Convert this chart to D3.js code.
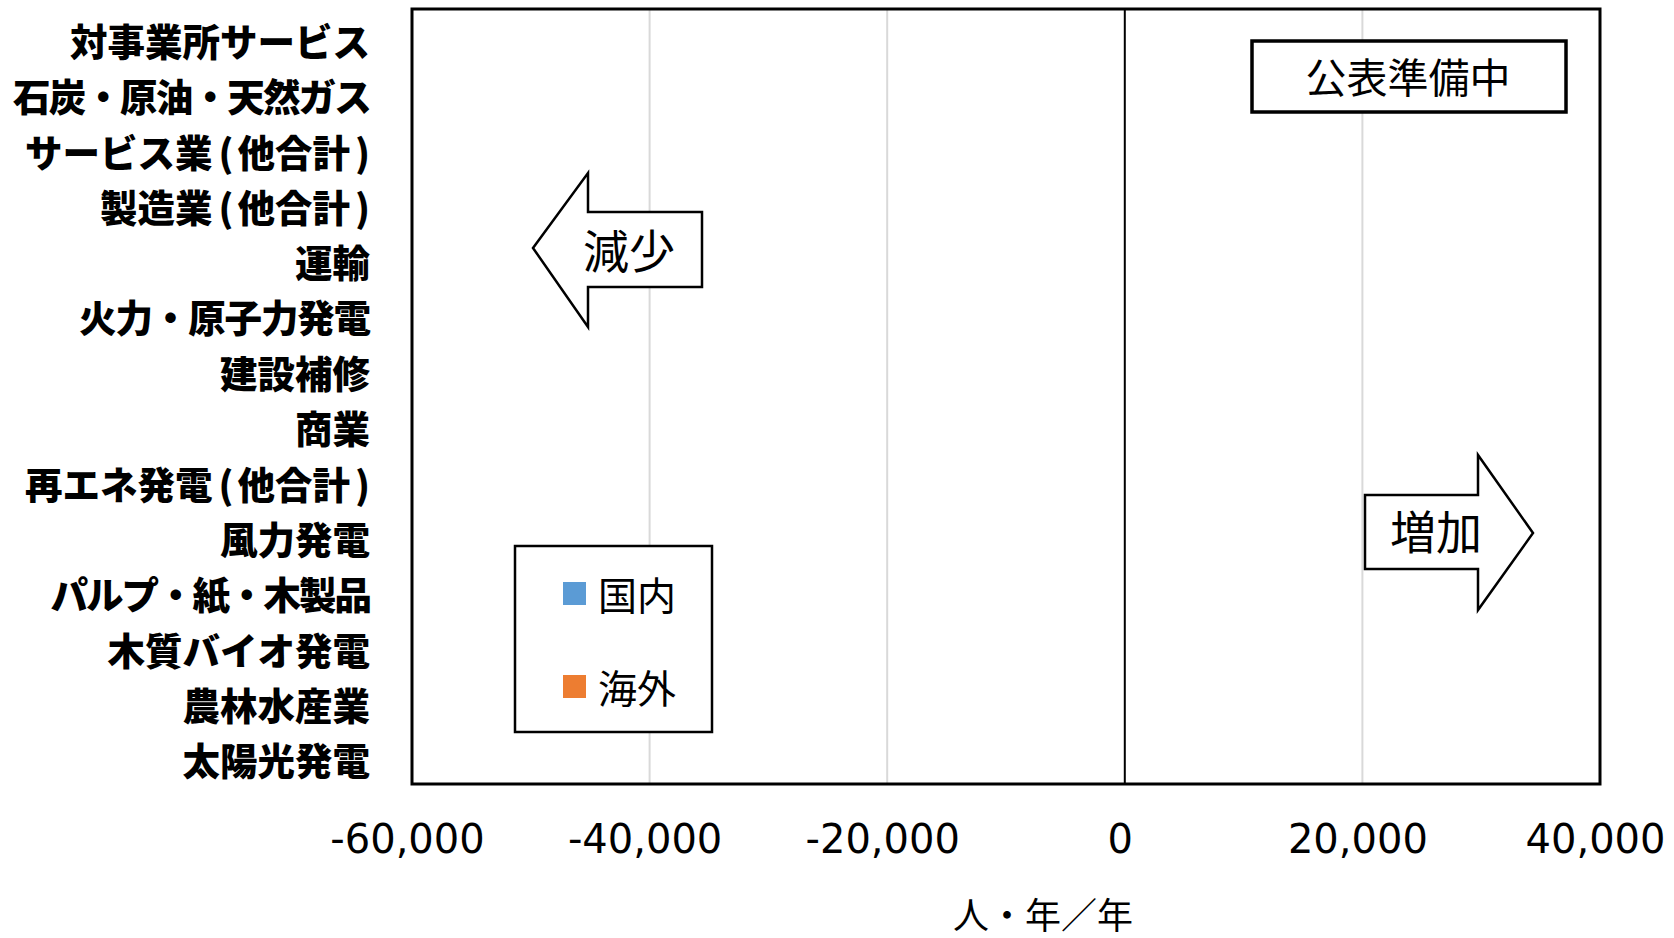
<!DOCTYPE html>
<html>
<head>
<meta charset="utf-8">
<script src="https://cdn.jsdelivr.net/npm/d3@7"></script>
<style>
  html, body { margin: 0; padding: 0; background: #fff; }
  svg { display: block; }
</style>
</head>
<body>
<svg id="chart" width="1674" height="938"></svg>
<script>
// ---- data ----
const categories = [
  "対事業所サービス", "石炭・原油・天然ガス", "サービス業(他合計)", "製造業(他合計)",
  "運輸", "火力・原子力発電", "建設補修", "商業", "再エネ発電(他合計)", "風力発電",
  "パルプ・紙・木製品", "木質バイオ発電", "農林水産業", "太陽光発電"
];
const seriesNames = ["国内", "海外"];
const seriesColors = ["#5B9BD5", "#ED7D31"];
// values not yet published (公表準備中) -> no visible bars
const domestic = [0, 0, 0, 0, 0, 0, 0, 0, 0, 0, 0, 0, 0, 0];
const overseas = [0, 0, 0, 0, 0, 0, 0, 0, 0, 0, 0, 0, 0, 0];
const xTicks = [-60000, -40000, -20000, 0, 20000, 40000];
const xDomain = [-60000, 40000];
const axisTitle = "人・年／年";
const noticeText = "公表準備中";
const decreaseText = "減少";
const increaseText = "増加";

// ---- layout ----
const svg = d3.select("#chart");
const plot = { left: 412, right: 1600, top: 9, bottom: 784 };

const x = d3.scaleLinear().domain(xDomain).range([plot.left, plot.right]);
const y = d3.scaleBand().domain(categories).range([plot.top, plot.bottom]).paddingInner(0.3).paddingOuter(0.15);
const yOuter = d3.scaleBand().domain(categories).range([plot.top, plot.bottom]);

// gridlines
svg.append("g").selectAll("line").data(xTicks.filter(d => d !== 0 && d !== xDomain[0] && d !== xDomain[1]))
  .join("line")
  .attr("x1", d => x(d)).attr("x2", d => x(d))
  .attr("y1", plot.top).attr("y2", plot.bottom)
  .attr("stroke", "#D9D9D9").attr("stroke-width", 2);

// bars (stacked: domestic then overseas)
const stackData = categories.map((c, i) => ({ cat: c, d: domestic[i], o: overseas[i] }));
svg.append("g").selectAll("rect").data(stackData).join("rect")
  .attr("x", d => x(Math.min(0, d.d))).attr("width", d => Math.abs(x(d.d) - x(0)))
  .attr("y", d => y(d.cat)).attr("height", y.bandwidth())
  .attr("fill", seriesColors[0]);
svg.append("g").selectAll("rect").data(stackData).join("rect")
  .attr("x", d => x(Math.min(d.d, d.d + d.o))).attr("width", d => Math.abs(x(d.d + d.o) - x(d.d)))
  .attr("y", d => y(d.cat)).attr("height", y.bandwidth())
  .attr("fill", seriesColors[1]);

// zero line
svg.append("line")
  .attr("x1", x(0)).attr("x2", x(0)).attr("y1", plot.top).attr("y2", plot.bottom)
  .attr("stroke", "#000").attr("stroke-width", 2);

// plot border
svg.append("rect")
  .attr("x", plot.left).attr("y", plot.top)
  .attr("width", plot.right - plot.left).attr("height", plot.bottom - plot.top)
  .attr("fill", "none").attr("stroke", "#000").attr("stroke-width", 3);

// category labels
const labels = svg.append("g").selectAll("text").data(categories).join("text")
  .attr("x", 370)
  .attr("y", d => yOuter(d) + yOuter.bandwidth() / 2 + 2.5)
  .attr("text-anchor", "end")
  .attr("dominant-baseline", "central")
  .attr("font-family", "'Noto Sans CJK JP', sans-serif")
  .attr("font-weight", 900)
  .attr("font-size", 37.5)
  .attr("fill", "#000")
  .attr("letter-spacing", d => {
    const dots = (d.match(/・/g) || []).length;
    return dots ? (-(dots * 9) / d.length).toFixed(2) : null;
  });
labels.each(function (d) {
  const t = d3.select(this);
  if (d.indexOf("(") < 0) { t.text(d); return; }
  // give the half-width parentheses a little breathing room
  const parts = d.split(/([()])/).filter(p => p.length);
  let afterOpen = false;
  parts.forEach(p => {
    const ts = t.append("tspan").text(p);
    if (p === "(") { ts.attr("dx", 6); afterOpen = true; }
    else if (p === ")") { ts.attr("dx", 5); }
    else if (afterOpen) { ts.attr("dx", 4); afterOpen = false; }
  });
});

// x axis
const locale = d3.formatLocale({ decimal: ".", thousands: ",", grouping: [3], currency: ["", ""], minus: "-" });
const xAxis = d3.axisBottom(x).tickValues(xTicks).tickSize(0).tickPadding(41).tickFormat(locale.format(","));
const gx = svg.append("g").attr("transform", `translate(0,${plot.bottom})`).call(xAxis);
gx.select(".domain").remove();
gx.selectAll("text")
  .attr("x", -5)
  .attr("font-family", "'DejaVu Sans', Verdana, sans-serif")
  .attr("font-size", 40)
  .attr("fill", "#000");

// axis title
svg.append("text")
  .attr("x", 1043).attr("y", 913)
  .attr("text-anchor", "middle").attr("dominant-baseline", "central")
  .attr("font-family", "'Noto Sans CJK JP', sans-serif")
  .attr("font-size", 36).attr("fill", "#000")
  .text(axisTitle);

// notice box
svg.append("rect")
  .attr("x", 1252).attr("y", 41).attr("width", 314).attr("height", 71)
  .attr("fill", "#fff").attr("stroke", "#000").attr("stroke-width", 3.5);
svg.append("text")
  .attr("x", 1408).attr("y", 75)
  .attr("text-anchor", "middle").attr("dominant-baseline", "central")
  .attr("font-family", "'Noto Sans CJK JP', sans-serif")
  .attr("font-size", 41).attr("fill", "#000")
  .text(noticeText);

// decrease arrow (left)
const leftArrow = [[533, 248], [588, 173], [588, 212], [702, 212], [702, 287], [588, 287], [588, 327]];
svg.append("path")
  .attr("d", d3.line()(leftArrow) + "Z")
  .attr("fill", "#fff").attr("stroke", "#000").attr("stroke-width", 2.5).attr("stroke-linejoin", "miter");
svg.append("text")
  .attr("x", 629).attr("y", 248)
  .attr("text-anchor", "middle").attr("dominant-baseline", "central")
  .attr("font-family", "'Noto Sans CJK JP', sans-serif")
  .attr("font-size", 46).attr("fill", "#000")
  .text(decreaseText);

// increase arrow (right)
const rightArrow = [[1365, 495], [1478, 495], [1478, 455], [1533, 533], [1478, 610], [1478, 569], [1365, 569]];
svg.append("path")
  .attr("d", d3.line()(rightArrow) + "Z")
  .attr("fill", "#fff").attr("stroke", "#000").attr("stroke-width", 2.5).attr("stroke-linejoin", "miter");
svg.append("text")
  .attr("x", 1436).attr("y", 529)
  .attr("text-anchor", "middle").attr("dominant-baseline", "central")
  .attr("font-family", "'Noto Sans CJK JP', sans-serif")
  .attr("font-size", 46).attr("fill", "#000")
  .text(increaseText);

// legend
const lg = svg.append("g");
lg.append("rect")
  .attr("x", 515).attr("y", 546).attr("width", 197).attr("height", 186)
  .attr("fill", "#fff").attr("stroke", "#000").attr("stroke-width", 2.5);
const items = lg.selectAll("g.item").data(seriesNames).join("g")
  .attr("transform", (d, i) => `translate(563,${593 + i * 93})`);
items.append("rect")
  .attr("x", 0).attr("y", -11).attr("width", 23).attr("height", 23)
  .attr("fill", (d, i) => seriesColors[i]);
items.append("text")
  .attr("x", 35).attr("y", 0)
  .attr("dominant-baseline", "central")
  .attr("font-family", "'Noto Sans CJK JP', sans-serif")
  .attr("font-size", 39).attr("fill", "#000")
  .text(d => d);
</script>
</body>
</html>
